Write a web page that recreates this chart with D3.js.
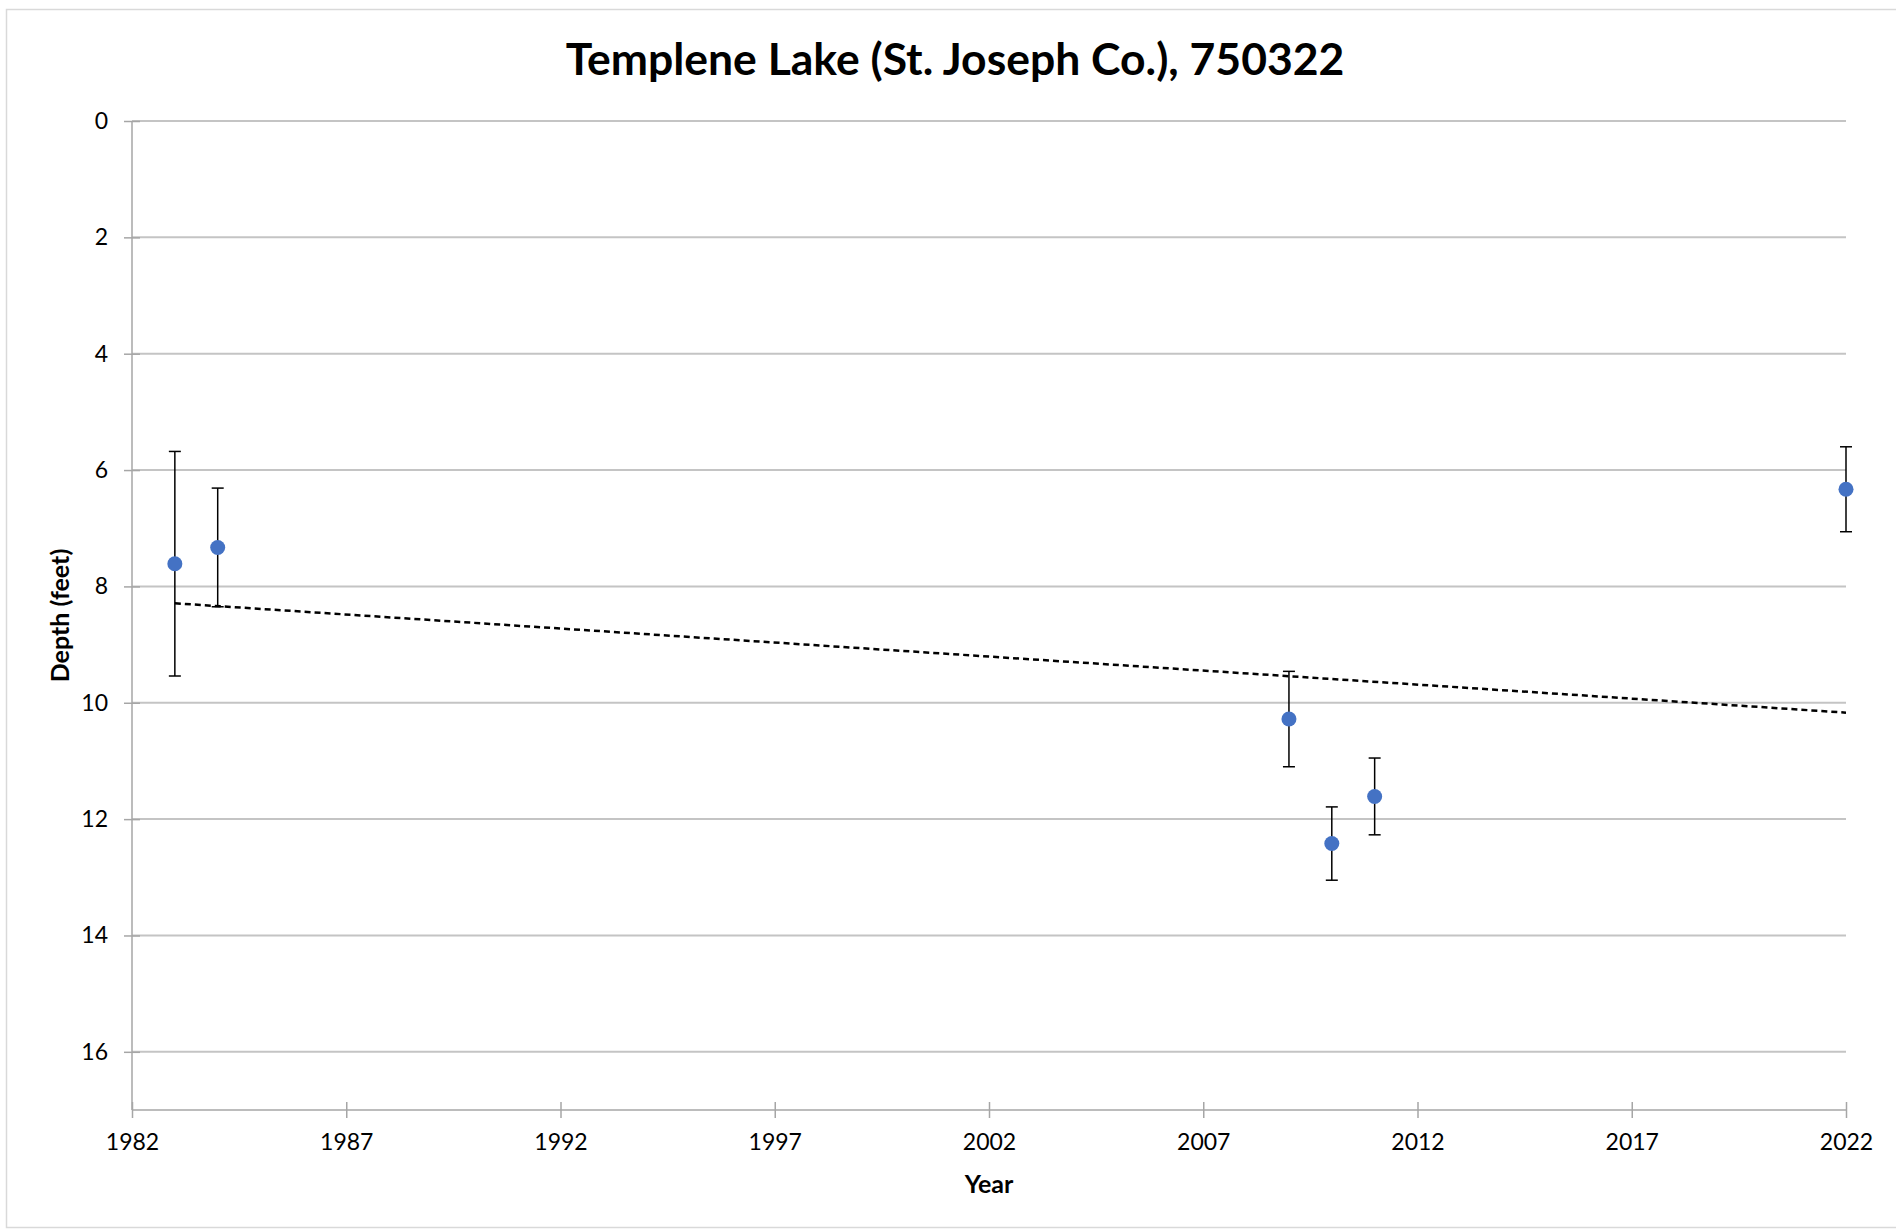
<!DOCTYPE html>
<html>
<head>
<meta charset="utf-8">
<script src="https://cdn.jsdelivr.net/npm/d3@7"></script>
<style>
  html, body { margin: 0; padding: 0; background: #fff; }
  svg { display: block; font-family: Lato, "Open Sans", sans-serif; }
</style>
</head>
<body>
<svg id="chart"></svg>
<script>
// Survey points (year, mean depth in feet, +/- error)
const years = [1983, 1984, 2009, 2010, 2011, 2022];
const depths = [7.61, 7.33, 10.28, 12.42, 11.61, 6.33];
const errors = [1.93, 1.02, 0.82, 0.63, 0.66, 0.73];

// Linear trendline endpoints
const trendYears = [1983, 2022];
const trendDepths = [8.29, 10.17];

const xTicks = [1982, 1987, 1992, 1997, 2002, 2007, 2012, 2017, 2022];
const yTicks = [0, 2, 4, 6, 8, 10, 12, 14, 16];

const titleText = 'Templene Lake (St. Joseph Co.), 750322';

const width = 1896, height = 1230;
const margin = { top: 121, right: 50, bottom: 120, left: 132 };

const svg = d3.select('#chart').attr('width', width).attr('height', height);

// Chart area border
svg.append('rect')
  .attr('x', 6.5).attr('y', 9.5)
  .attr('width', width).attr('height', 1218)
  .attr('fill', 'none')
  .attr('stroke', '#d9d9d9')
  .attr('stroke-width', 1.5);

const x = d3.scaleLinear().domain([1982, 2022]).range([margin.left, width - margin.right]);
const y = d3.scaleLinear().domain([0, 17]).range([margin.top, height - margin.bottom]);

// Gridlines
svg.append('g')
  .selectAll('line')
  .data(yTicks)
  .enter()
  .append('line')
  .attr('x1', x(1982)).attr('x2', x(2022))
  .attr('y1', d => y(d)).attr('y2', d => y(d))
  .attr('stroke', '#c4c4c4')
  .attr('stroke-width', 2);

// Y axis (cross ticks)
const yAxis = svg.append('g')
  .attr('transform', `translate(${x(1982)},0)`)
  .call(d3.axisLeft(y).tickValues(yTicks).tickSize(8).tickPadding(16));
yAxis.select('.domain').remove();
yAxis.append('line')
  .attr('y1', y(0)).attr('y2', y(17))
  .attr('stroke', '#a6a6a6').attr('stroke-width', 1.5);
yAxis.selectAll('.tick line')
  .attr('x1', 8).attr('x2', -8)
  .attr('stroke', '#a6a6a6').attr('stroke-width', 1.5);
yAxis.selectAll('.tick text')
  .attr('font-size', 23)
  .attr('font-family', 'Lato, sans-serif')
  .attr('fill', '#000');

// X axis (cross ticks)
const xAxis = svg.append('g')
  .attr('transform', `translate(0,${y(17)})`)
  .call(d3.axisBottom(x).tickValues(xTicks).tickFormat(d3.format('d')).tickSize(8).tickPadding(16));
xAxis.select('.domain').remove();
xAxis.append('line')
  .attr('x1', x(1982)).attr('x2', x(2022))
  .attr('stroke', '#a6a6a6').attr('stroke-width', 1.5);
xAxis.selectAll('.tick line')
  .attr('y1', -8).attr('y2', 8)
  .attr('stroke', '#a6a6a6').attr('stroke-width', 1.5);
xAxis.selectAll('.tick text')
  .attr('font-size', 23)
  .attr('font-family', 'Lato, sans-serif')
  .attr('fill', '#000');

const points = years.map((yr, i) => ({ year: yr, depth: depths[i], err: errors[i] }));

// Error bars
const bars = svg.append('g').attr('class', 'error-bars');
bars.selectAll('line.stem')
  .data(points)
  .enter()
  .append('line')
  .attr('class', 'stem')
  .attr('x1', d => x(d.year)).attr('x2', d => x(d.year))
  .attr('y1', d => y(d.depth - d.err)).attr('y2', d => y(d.depth + d.err))
  .attr('stroke', '#000').attr('stroke-width', 1.5);
['top', 'bottom'].forEach(side => {
  bars.selectAll('line.cap-' + side)
    .data(points)
    .enter()
    .append('line')
    .attr('x1', d => x(d.year) - 6).attr('x2', d => x(d.year) + 6)
    .attr('y1', d => y(side === 'top' ? d.depth - d.err : d.depth + d.err))
    .attr('y2', d => y(side === 'top' ? d.depth - d.err : d.depth + d.err))
    .attr('stroke', '#000').attr('stroke-width', 1.5);
});

// Trendline
const trend = trendYears.map((yr, i) => ({ year: yr, depth: trendDepths[i] }));
svg.append('path')
  .datum(trend)
  .attr('d', d3.line().x(d => x(d.year)).y(d => y(d.depth)))
  .attr('fill', 'none')
  .attr('stroke', '#000')
  .attr('stroke-width', 2.5)
  .attr('stroke-dasharray', '6,4');

// Points
svg.append('g')
  .selectAll('circle')
  .data(points)
  .enter()
  .append('circle')
  .attr('cx', d => x(d.year))
  .attr('cy', d => y(d.depth))
  .attr('r', 7.5)
  .attr('fill', '#4472c4');

// Title, fitted to the width it takes in the original
const title = svg.append('text')
  .attr('x', 955).attr('y', 75)
  .attr('text-anchor', 'middle')
  .attr('font-weight', 'bold')
  .attr('font-size', 36)
  .attr('fill', '#000')
  .text(titleText);
const tw = title.node().getComputedTextLength();
title.attr('font-size', 36 * 779 / tw);

// Axis titles
svg.append('text')
  .attr('x', x(2002)).attr('y', 1193)
  .attr('text-anchor', 'middle')
  .attr('font-weight', 'bold')
  .attr('font-size', 25)
  .text('Year');

svg.append('text')
  .attr('transform', `translate(60,${(y(0) + y(17)) / 2}) rotate(-90)`)
  .attr('text-anchor', 'middle')
  .attr('dy', '0.35em')
  .attr('font-weight', 'bold')
  .attr('font-size', 25)
  .text('Depth (feet)');
</script>
</body>
</html>
